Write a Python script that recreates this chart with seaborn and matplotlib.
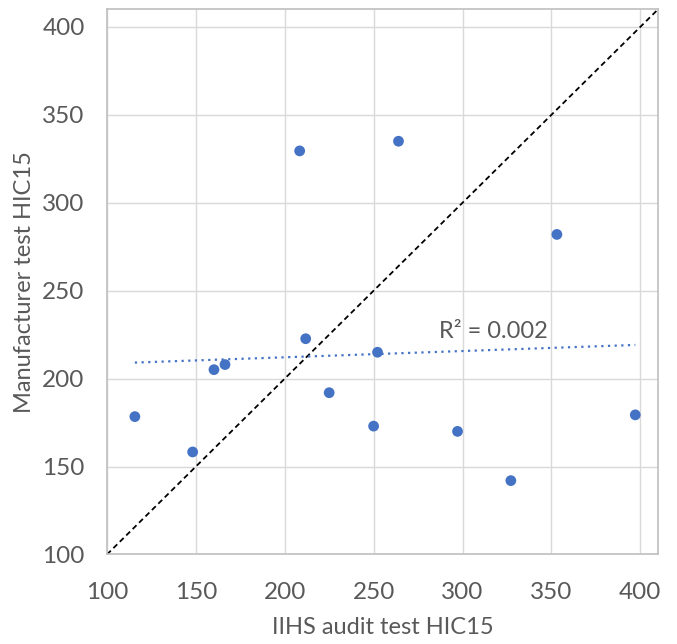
import numpy as np
import pandas as pd
import matplotlib
matplotlib.use("Agg")
import matplotlib.pyplot as plt
import seaborn as sns

# values
iihs_hic = [115.7, 148.2, 160.2, 166.4, 208.4, 211.8, 225.0, 250.0, 252.2, 264.0, 297.2, 327.2, 353.1, 397.2]
manuf_hic = [178.4, 158.3, 205.1, 208.0, 329.5, 222.7, 192.0, 173.0, 215.0, 335.0, 170.0, 142.0, 282.0, 179.4]
r2_label = "R² = 0.002"
ticks = [100, 150, 200, 250, 300, 350, 400]

df = pd.DataFrame({"iihs": iihs_hic, "manuf": manuf_hic})

sns.set_theme(style="whitegrid")
plt.rcParams["font.family"] = ["Lato", "DejaVu Sans"]

fig = plt.figure(figsize=(6.77, 6.44), dpi=100)
ax = fig.add_axes([0.158, 0.139, 0.814, 0.8465])

blue = "#4472C4"
grey_txt = "#595959"

# 1:1 reference line
ax.plot([100, 410], [100, 410], color="black", linestyle=(0, (3, 2)), linewidth=1.3, zorder=2)

# linear trendline
sns.regplot(data=df, x="iihs", y="manuf", ax=ax, ci=None, scatter=False,
            line_kws={"color": blue, "linestyle": (0, (1, 2)), "linewidth": 1.6, "zorder": 3})

sns.scatterplot(data=df, x="iihs", y="manuf", ax=ax, color=blue, s=60,
                edgecolor="none", zorder=4)

ax.text(287, 221, r2_label, fontsize=17, color=grey_txt, ha="left", va="bottom")

ax.set_xlim(100, 410)
ax.set_ylim(100, 410)
ax.set_xticks(ticks)
ax.set_yticks(ticks)
ax.grid(True, color="#D9D9D9", linewidth=1)
for sp in ax.spines.values():
    sp.set_color("#BFBFBF")
    sp.set_linewidth(1.2)
ax.tick_params(axis="x", labelsize=17.5, colors=grey_txt, length=0, pad=20)
ax.tick_params(axis="y", labelsize=17.5, colors=grey_txt, length=0, pad=16)
ax.set_xlabel("IIHS audit test HIC15", fontsize=17, color=grey_txt, labelpad=10)
ax.set_ylabel("Manufacturer test HIC15", fontsize=17, color=grey_txt, labelpad=5)

fig.savefig("out.png", dpi=100)
